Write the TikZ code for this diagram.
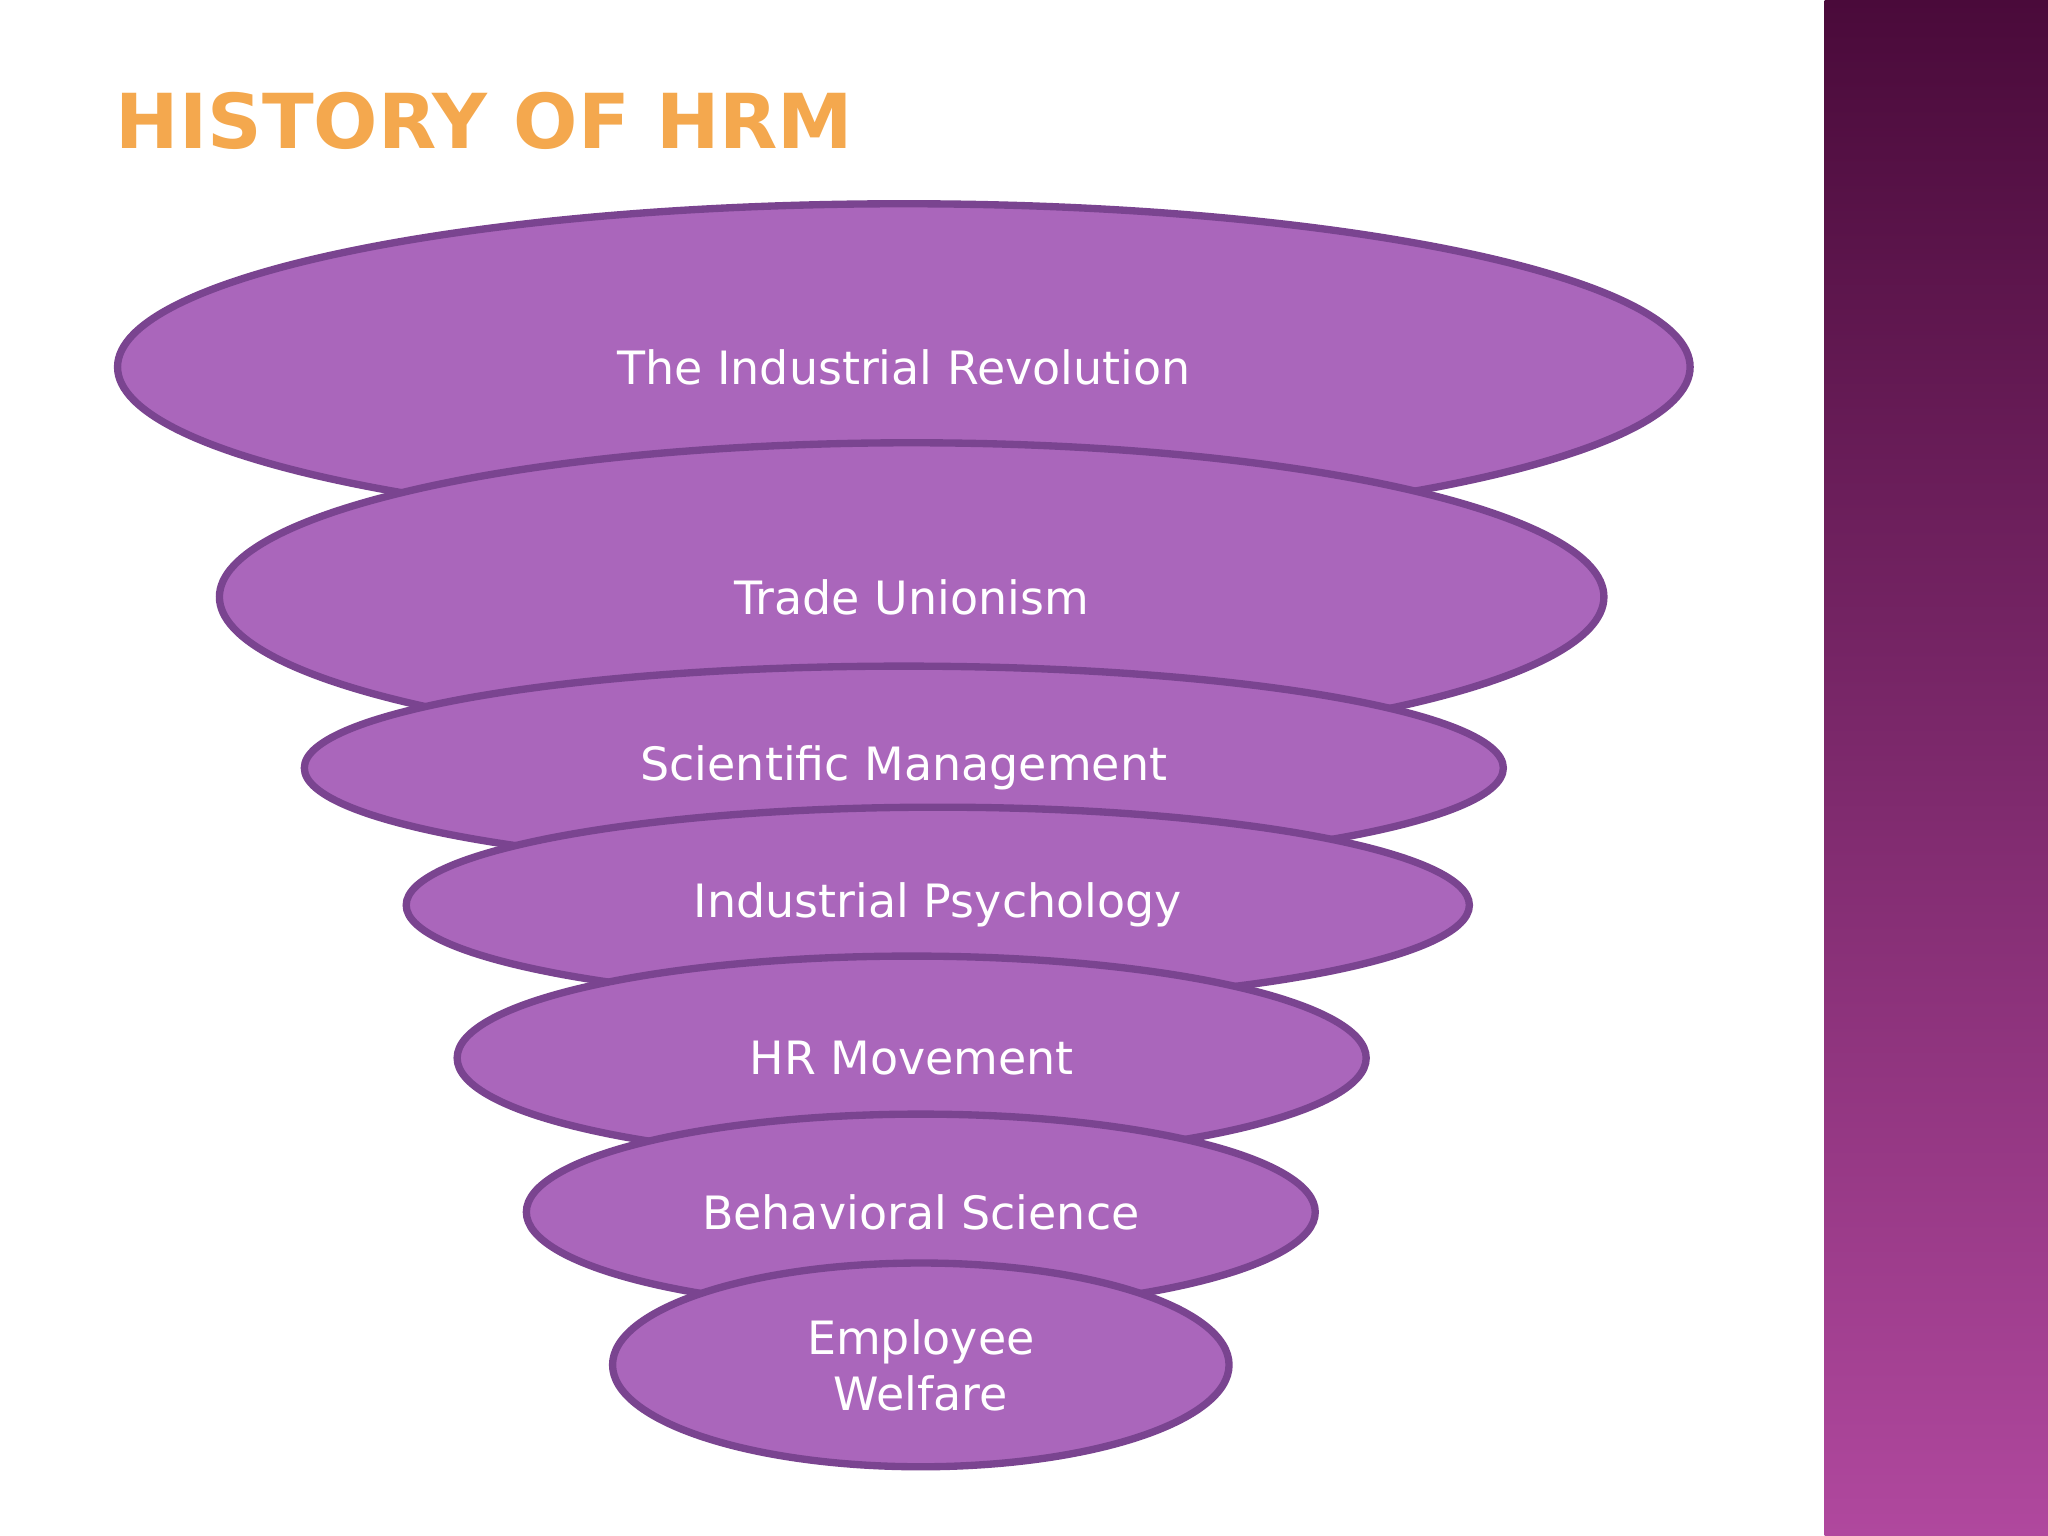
\documentclass[tikz,border=0pt]{standalone}
\usepackage{fontspec}
\setmainfont{DejaVu Sans}
\begin{document}
\begin{tikzpicture}[x=0.01cm,y=-0.01cm,
  layer/.style={fill=eFill,draw=eLine,line width=1.6pt},
  lab/.style={text=white,font=\fontsize{10}{12.2}\selectfont,align=center}]
\definecolor{eFill}{HTML}{AA66BB}
\definecolor{eLine}{HTML}{7A4490}
\definecolor{sTop}{HTML}{4A0A3A}
\definecolor{sBot}{HTML}{B0489E}
\definecolor{tOr}{HTML}{F4A84E}
\useasboundingbox (0,0) rectangle (1568,1176);
\fill[white] (0,0) rectangle (1568,1176);
\shade[top color=sTop,bottom color=sBot] (1397,0) rectangle (1568,1176);
\node[anchor=base west,font=\fontsize{16.5}{20}\selectfont\bfseries,text=tOr,inner sep=0] (title) at (88,114) {HISTORY OF HRM};
\foreach \n/\cx/\cy/\rx/\ry/\t in {
 a/692/281/602/125/{The Industrial Revolution},
 b/698/457/530/118/{Trade Unionism},
 c/692/588/459/78/{Scientific Management},
 d/718/693/407/75/{Industrial Psychology},
 e/698/810/348/78/{HR Movement},
 f/705/928/302/75/{Behavioral Science},
 g/705/1045/236/78/{Employee\\Welfare}}{
 \draw[layer] (\cx,\cy) ellipse[x radius=\rx,y radius=\ry];
 \node[lab] (\n) at (\cx,\cy) {\t};
}
\end{tikzpicture}
\end{document}
